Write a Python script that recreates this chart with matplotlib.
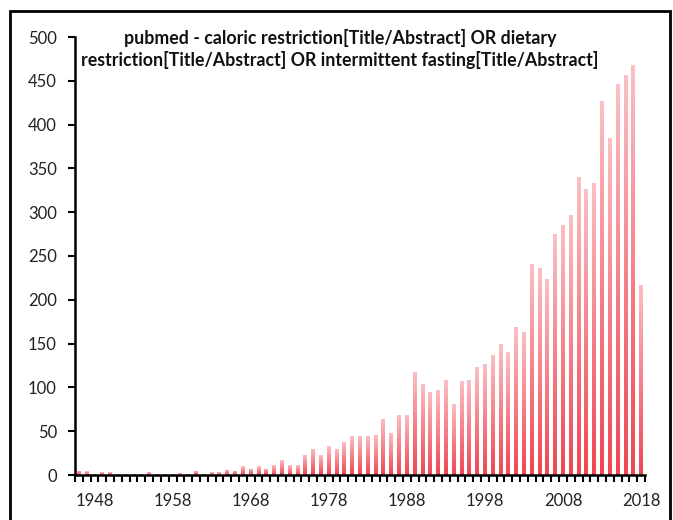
import numpy as np
import matplotlib
matplotlib.use("Agg")
import matplotlib.pyplot as plt
from matplotlib.colors import LinearSegmentedColormap
from matplotlib.patches import Rectangle

# pubmed hits per year
years = list(range(1946, 2019))
counts = [5, 4, 1, 3, 3, 1, 1, 1, 1, 3,
          1, 1, 1, 2, 1, 5, 1, 3, 3, 6,
          5, 10, 7, 10, 7, 11, 17, 11, 11, 23,
          30, 23, 33, 30, 38, 44, 45, 45, 46, 64,
          48, 69, 69, 118, 104, 95, 97, 108, 81, 107,
          109, 123, 127, 137, 149, 140, 169, 163, 241, 236,
          224, 275, 285, 297, 340, 326, 333, 427, 385, 446,
          457, 468, 217]
label_years = [1948, 1958, 1968, 1978, 1988, 1998, 2008, 2018]
y_ticks = [0, 50, 100, 150, 200, 250, 300, 350, 400, 450, 500]
title = ("pubmed - caloric restriction[Title/Abstract] OR dietary\n"
         "restriction[Title/Abstract] OR intermittent fasting[Title/Abstract]")

plt.rcParams['font.family'] = ['Lato', 'DejaVu Sans']

fig = plt.figure(figsize=(6.73, 5.2), dpi=100)
ax = fig.add_axes([75 / 673, 1 - 475 / 520, 570 / 673, 438 / 520])

# light pink at the top of each bar, red at the bottom
cmap = LinearSegmentedColormap.from_list("pinkred", ["#ef4652", "#fbbfc4"])
grad = np.linspace(0, 1, 100).reshape(-1, 1)

bars = ax.bar(years, counts, width=0.5, color="none", edgecolor="none")
for b in bars:
    x0, h, w = b.get_x(), b.get_height(), b.get_width()
    im = ax.imshow(grad, cmap=cmap, origin="lower", aspect="auto",
                   extent=[x0, x0 + w, 0, h], zorder=2)
    im.set_clip_path(b)

ax.set_xlim(1945.5, 2018.5)
ax.set_ylim(0, 500)

ax.set_xticks(label_years)
ax.set_xticklabels([str(y) for y in label_years], fontsize=12, color="#222222")
ax.set_xticks(np.arange(1945.5, 2019, 1), minor=True)
ax.tick_params(axis="x", which="major", length=0, pad=13)
ax.tick_params(axis="x", which="minor", length=5, width=1.5, direction="out")

ax.set_yticks(y_ticks)
ax.set_yticklabels([str(v) for v in y_ticks], fontsize=12, color="#222222")
ax.tick_params(axis="y", length=5, width=1.5, direction="out", pad=8)

for s in ["top", "right"]:
    ax.spines[s].set_visible(False)
for s in ["left", "bottom"]:
    ax.spines[s].set_linewidth(1.8)

fig.text(340 / 673, 1 - 49 / 520, title, ha="center", va="center",
         fontsize=12.8, fontweight="bold", linespacing=1.3, color="#111111")

# black frame around the chart
fig.patches.append(Rectangle((10 / 673, -0.1), 660 / 673, 1.1 - 11 / 520,
                             transform=fig.transFigure, fill=False,
                             edgecolor="black", linewidth=2))

fig.savefig("out.png", dpi=100)
